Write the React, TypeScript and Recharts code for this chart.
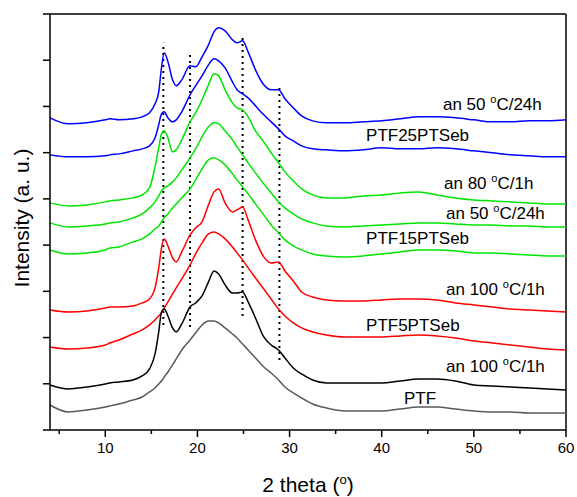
import { LineChart, Line, XAxis, YAxis, ReferenceLine, ReferenceDot } from "recharts";

// 2 theta grid (deg)
const twoTheta = [
  4, 6, 8, 10, 10.5, 11.5, 13, 14, 14.8, 15.4,
  15.8, 16.1, 16.4, 16.8, 17.3, 17.7, 18.3, 19.2, 19.8, 20.5,
  21.2, 21.8, 22.3, 23, 23.8, 24.3, 24.9, 25.5, 26.3, 27.2,
  28, 28.8, 29.5, 30.4, 31.3, 32.5, 34, 36, 38, 40,
  42, 44, 46, 48, 50, 52, 54, 56, 58, 60,
];

// stacked intensities (a.u., offsets included)
const ptf25An50 = [
  312, 306, 307, 310, 311, 310, 311, 313, 317, 326,
  338, 362, 377, 368, 350, 344, 350, 364, 363, 373,
  385, 398, 402, 399, 390, 387, 389, 378, 360, 345,
  340, 340, 331, 322, 314, 309, 307, 307, 308, 309,
  311, 313, 313, 312, 310, 308, 308, 309, 309, 310,
];
const ptf25 = [
  275, 273, 273, 274, 275, 276, 279, 281, 284, 292,
  305, 316, 318, 312, 308, 310, 318, 335, 344, 354,
  365, 371, 369, 362, 348, 340, 336, 332, 324, 315,
  308, 301, 294, 289, 284, 281, 280, 279, 280, 282,
  281, 281, 282, 281, 279, 277, 275, 274, 273, 273,
];
const ptf15An80 = [
  227, 224, 225, 228, 229, 230, 232, 235, 242, 263,
  282, 296, 299, 292, 278, 280, 290, 308, 317, 330,
  345, 356, 354, 340, 327, 322, 320, 313, 299, 288,
  277, 267, 258, 249, 241, 235, 232, 232, 234, 235,
  237, 238, 235, 232, 230, 229, 228, 227, 226, 226,
];
const ptf15An50 = [
  207, 203, 204, 206, 207, 208, 212, 216, 222, 228,
  234, 239, 242, 244, 248, 252, 260, 272, 281, 293,
  303, 307, 306, 299, 290, 283, 275, 267, 257, 246,
  237, 228, 222, 216, 211, 207, 204, 203, 204, 205,
  206, 207, 207, 206, 205, 205, 204, 204, 203, 203,
];
const ptf15 = [
  180, 176, 177, 180, 182, 183, 188, 191, 196, 201,
  204, 208, 212, 216, 222, 226, 232, 241, 250, 261,
  270, 272, 270, 265, 256, 250, 243, 236, 226, 215,
  205, 197, 190, 184, 180, 176, 174, 173, 174, 176,
  178, 180, 180, 179, 177, 177, 176, 175, 174, 174,
];
const ptf5An100 = [
  120, 118, 119, 122, 123, 123, 124, 127, 131, 142,
  162, 182, 191, 184, 172, 168, 178, 195, 202, 208,
  225, 238, 241, 227, 218, 220, 223, 210, 190, 173,
  167, 168, 159, 149, 138, 133, 130, 129, 129, 130,
  131, 131, 130, 127, 125, 123, 121, 120, 119, 118,
];
const ptf5 = [
  83, 81, 82, 85, 87, 90, 96, 100, 105, 110,
  114, 117, 122, 128, 136, 142, 151, 165, 176, 187,
  196, 198, 196, 191, 183, 177, 170, 162, 152, 141,
  131, 121, 114, 107, 102, 98, 95, 93, 93, 93,
  94, 95, 94, 92, 89, 87, 85, 83, 81, 80,
];
const ptfAn100 = [
  45, 41, 43, 46, 47, 48, 50, 54, 61, 76,
  98, 118, 121, 114, 102, 98, 106, 123, 127, 134,
  148, 159, 156, 145, 137, 137, 138, 128, 112, 93,
  85, 80, 72, 62, 56, 50, 47, 47, 47, 47,
  49, 51, 51, 49, 45, 44, 43, 42, 41, 40,
];
const ptf = [
  25, 18, 20, 23, 24, 26, 30, 33, 38, 42,
  46, 49, 53, 58, 65, 71, 80, 90, 97, 105,
  109, 109, 107, 102, 96, 92, 86, 80, 72, 63,
  57, 50, 43, 37, 32, 26, 22, 19, 19, 19,
  21, 23, 23, 21, 19, 18, 18, 17, 17, 17,
];

// dotted guide lines (2 theta, top, bottom)
const guideTheta = [16.3, 19.2, 24.9, 28.9];
const guideTop = [387, 375, 395, 342];
const guideBottom = [105, 103, 114, 70];

// curve labels
const labelText = [
  "an 50 °C/24h", "PTF25PTSeb", "an 80 °C/1h", "an 50 °C/24h", "PTF15PTSeb",
  "an 100 °C/1h", "PTF5PTSeb", "an 100 °C/1h", "PTF",
];
const labelTheta = [46.65, 38.3, 46.76, 46.98, 38.3, 46.98, 38.3, 46.98, 42.42];
const labelY = [320, 289, 241, 211, 186, 135, 99, 58, 26];

const xTicks = [5, 10, 15, 20, 25, 30, 35, 40, 45, 50, 55, 60];
const yTicks = [0, 46.2, 92.4, 138.6, 184.8, 231, 277.2, 323.4, 369.6, 415.8];
const yMax = 415.8;

const series = [
  { key: "ptf25An50", values: ptf25An50, color: "#0000ff" },
  { key: "ptf25", values: ptf25, color: "#0000ff" },
  { key: "ptf15An80", values: ptf15An80, color: "#00e600" },
  { key: "ptf15An50", values: ptf15An50, color: "#00e600" },
  { key: "ptf15", values: ptf15, color: "#00e600" },
  { key: "ptf5An100", values: ptf5An100, color: "#ff0000" },
  { key: "ptf5", values: ptf5, color: "#ff0000" },
  { key: "ptfAn100", values: ptfAn100, color: "#000000" },
  { key: "ptf", values: ptf, color: "#5a5a5a" },
];

const data = twoTheta.map((t, i) => {
  const row: Record<string, number> = { theta: t };
  series.forEach((s) => (row[s.key] = s.values[i]));
  return row;
});

const FONT = "'Liberation Sans', Arial, sans-serif";

// text with the "°" drawn as a raised o
function Degree({ x, y, text, size }: { x: number; y: number; text: string; size: number }) {
  const parts = text.split("°");
  if (parts.length < 2) {
    return (
      <text x={x} y={y} fontSize={size} fontFamily={FONT} fill="#000">
        {text}
      </text>
    );
  }
  return (
    <text x={x} y={y} fontSize={size} fontFamily={FONT} fill="#000">
      {parts[0]}
      <tspan dy={-size * 0.42} fontSize={size * 0.65}>o</tspan>
      <tspan dy={size * 0.42}>{parts[1]}</tspan>
    </text>
  );
}

const XTick = (props: any) => {
  const { x, y, payload } = props;
  const major = payload.value % 10 === 0;
  return (
    <g>
      <line x1={x} y1={y} x2={x} y2={y + (major ? 7 : 4)} stroke="#000" strokeWidth={1.5} />
      {major && (
        <text x={x} y={y + 23} textAnchor="middle" fontSize={15} fontFamily={FONT} fill="#000">
          {payload.value}
        </text>
      )}
    </g>
  );
};

const YTick = (props: any) => {
  const { x, y } = props;
  return <line x1={x - 7} y1={y} x2={x} y2={y} stroke="#000" strokeWidth={1.5} />;
};

export default function App() {
  return (
    <div style={{ position: "absolute", left: 0, top: 0, width: 577, height: 497, background: "#fff" }}>
      <LineChart width={577} height={497} data={data} margin={{ top: 14, right: 11, bottom: 0, left: 0 }}>
        <XAxis
          dataKey="theta"
          type="number"
          domain={[4, 60]}
          ticks={xTicks}
          interval={0}
          height={67}
          tickSize={0}
          tickMargin={0}
          tickLine={false}
          tick={XTick}
          axisLine={{ stroke: "#000", strokeWidth: 1.5 }}
          label={{
            content: ({ viewBox }: any) => (
              <text
                x={viewBox.x + viewBox.width / 2}
                y={viewBox.y + 62}
                textAnchor="middle"
                fontSize={21}
                fontFamily={FONT}
                fill="#000"
              >
                2 theta (<tspan dy={-8} fontSize={13}>o</tspan>
                <tspan dy={8}>)</tspan>
              </text>
            ),
          }}
        />
        <YAxis
          type="number"
          domain={[0, yMax]}
          ticks={yTicks}
          interval={0}
          width={50}
          tickSize={0}
          tickMargin={0}
          tickLine={false}
          tick={YTick}
          axisLine={{ stroke: "#000", strokeWidth: 1.5 }}
          label={{
            content: ({ viewBox }: any) => {
              const cx = viewBox.x + 29;
              const cy = viewBox.y + viewBox.height / 2 - 4;
              return (
                <text
                  x={cx}
                  y={cy}
                  transform={`rotate(-90 ${cx} ${cy})`}
                  textAnchor="middle"
                  fontSize={21}
                  fontFamily={FONT}
                  fill="#000"
                >
                  Intensity (a. u.)
                </text>
              );
            },
          }}
        />
        <ReferenceLine y={yMax} stroke="#000" strokeWidth={1.5} />
        <ReferenceLine x={60} stroke="#000" strokeWidth={1.5} />
        {guideTheta.map((t, i) => (
          <ReferenceLine
            key={"g" + i}
            segment={[
              { x: t, y: guideBottom[i] },
              { x: t, y: guideTop[i] },
            ]}
            stroke="#000"
            strokeWidth={2}
            strokeDasharray="2 4"
          />
        ))}
        {series.map((s) => (
          <Line
            key={s.key}
            dataKey={s.key}
            type="monotone"
            stroke={s.color}
            strokeWidth={1.5}
            dot={false}
            isAnimationActive={false}
          />
        ))}
        {labelText.map((txt, i) => (
          <ReferenceDot
            key={"l" + i}
            x={labelTheta[i]}
            y={labelY[i]}
            r={0}
            fill="none"
            stroke="none"
            label={(p: any) => <Degree x={p.viewBox.x} y={p.viewBox.y} text={txt} size={17} />}
          />
        ))}
      </LineChart>
    </div>
  );
}
